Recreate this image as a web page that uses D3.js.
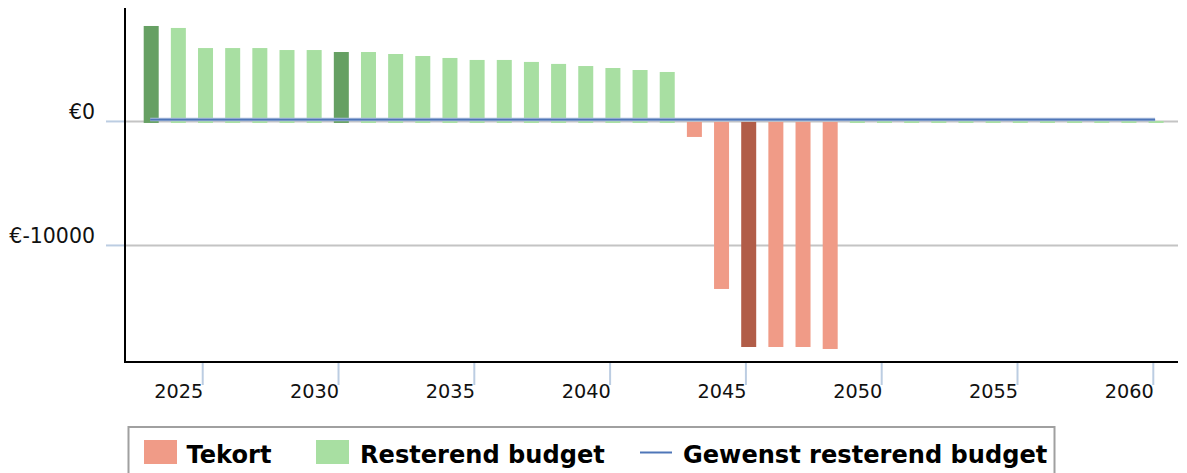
<!DOCTYPE html>
<html>
<head>
<meta charset="utf-8">
<script src="https://cdn.jsdelivr.net/npm/d3@7"></script>
<style>
  html, body { margin: 0; padding: 0; background: #ffffff; }
  svg { display: block; }
</style>
</head>
<body>
<svg id="chart" width="1187" height="473"></svg>
<script>
// ---- data ----
const years = [2023, 2024, 2025, 2026, 2027, 2028, 2029, 2030, 2031, 2032,
               2033, 2034, 2035, 2036, 2037, 2038, 2039, 2040, 2041, 2042,
               2043, 2044, 2045, 2046, 2047, 2048, 2049, 2050, 2051, 2052,
               2053, 2054, 2055, 2056, 2057, 2058, 2059, 2060];
const resterend = [7700, 7540, 5920, 5920, 5920, 5760, 5760, 5600, 5600, 5440,
                   5280, 5120, 4960, 4960, 4800, 4640, 4470, 4310, 4150, 3990,
                   null, null, null, null, null, null, 0, 0, 0, 0,
                   0, 0, 0, 0, 0, 0, 0, 0];
const tekort = [null, null, null, null, null, null, null, null, null, null,
                null, null, null, null, null, null, null, null, null, null,
                -1250, -13510, -18190, -18190, -18190, -18350, null, null, null, null,
                null, null, null, null, null, null, null, null];
const gewenst = [150, 150, 150, 150, 150, 150, 150, 150, 150, 150,
                 150, 150, 150, 150, 150, 150, 150, 150, 150, 150,
                 150, 150, 150, 150, 150, 150, 150, 150, 150, 150,
                 150, 150, 150, 150, 150, 150, 150, 150];
const highlightYears = [2023, 2030, 2045];
const xTickYears = [2025, 2030, 2035, 2040, 2045, 2050, 2055, 2060];
const yTickValues = [0, -10000];
const yTickLabels = ["€0", "€-10000"];
const legendLabels = ["Tekort", "Resterend budget", "Gewenst resterend budget"];

// ---- styles ----
const C = {
  green: "#a8dfa2", greenDark: "#66a063",
  red: "#f09b87", redDark: "#b15d48",
  blue: "#4f76b8", grid: "#c4c4c4", tick: "#bccde2", axis: "#000000"
};

const svg = d3.select("#chart");
const pLeft = 125, pRight = 1178, pTop = 8, pBottom = 362;

const x = d3.scaleLinear().domain([2023, 2060]).range([151.2, 1156.1]);
const y = d3.scaleLinear().domain([-19400, 9150]).range([pBottom, pTop]);
const barW = 15;

// gridlines
const g = svg.append("g");
g.selectAll("line.grid").data(yTickValues).enter().append("line")
  .attr("x1", pLeft).attr("x2", pRight)
  .attr("y1", d => y(d)).attr("y2", d => y(d))
  .attr("stroke", C.grid).attr("stroke-width", 2);
g.selectAll("line.ytick").data(yTickValues).enter().append("line")
  .attr("x1", 106).attr("x2", pLeft)
  .attr("y1", d => y(d)).attr("y2", d => y(d))
  .attr("stroke", C.tick).attr("stroke-width", 2);
g.selectAll("text.ylab").data(yTickValues).enter().append("text")
  .attr("x", 95).attr("y", d => y(d) - 2)
  .attr("text-anchor", "end")
  .attr("font-family", "DejaVu Sans, Verdana, sans-serif")
  .attr("font-size", 20.5).attr("fill", "#111")
  .text((d, i) => yTickLabels[i]);

// green bars
const y0 = y(0);
const greenData = years.map((yr, i) => ({ yr, v: resterend[i] })).filter(d => d.v !== null);
svg.append("g").selectAll("rect").data(greenData).enter().append("rect")
  .attr("x", d => x(d.yr) - barW / 2)
  .attr("width", barW)
  .attr("y", d => Math.min(y(d.v), y0 - 0.5))
  .attr("height", d => (y0 + 1.5) - Math.min(y(d.v), y0 - 0.5))
  .attr("fill", d => highlightYears.includes(d.yr) ? C.greenDark : C.green);

// red bars
const redData = years.map((yr, i) => ({ yr, v: tekort[i] })).filter(d => d.v !== null);
svg.append("g").selectAll("rect").data(redData).enter().append("rect")
  .attr("x", d => x(d.yr) - barW / 2)
  .attr("width", barW)
  .attr("y", y0 + 0.5)
  .attr("height", d => y(d.v) - (y0 + 0.5))
  .attr("fill", d => highlightYears.includes(d.yr) ? C.redDark : C.red);

// desired line
const lineData = years.map((yr, i) => ({ yr, v: gewenst[i] }));
svg.append("path")
  .datum(lineData)
  .attr("fill", "none")
  .attr("stroke", "#a9bcdc").attr("stroke-width", 3.5)
  .attr("d", d3.line().x(d => x(d.yr) - 1).y(d => y(d.v)));
svg.append("path")
  .datum(lineData)
  .attr("fill", "none")
  .attr("stroke", C.blue).attr("stroke-width", 1.8)
  .attr("d", d3.line().x(d => x(d.yr) - 1).y(d => y(d.v)));

// x ticks & labels
const xg = svg.append("g");
xg.selectAll("line").data(xTickYears).enter().append("line")
  .attr("x1", d => x(d) - 2.8).attr("x2", d => x(d) - 2.8)
  .attr("y1", pBottom).attr("y2", 385)
  .attr("stroke", C.tick).attr("stroke-width", 2);
xg.selectAll("text").data(xTickYears).enter().append("text")
  .attr("x", d => x(d) - 2.2).attr("y", 397.5)
  .attr("text-anchor", "end")
  .attr("font-family", "DejaVu Sans, Verdana, sans-serif")
  .attr("font-size", 19.3).attr("fill", "#111")
  .text(d => d);

// axes lines
svg.append("line").attr("x1", pLeft).attr("x2", pLeft).attr("y1", pTop).attr("y2", pBottom + 1)
  .attr("stroke", C.axis).attr("stroke-width", 2);
svg.append("line").attr("x1", pLeft - 1).attr("x2", pRight).attr("y1", pBottom).attr("y2", pBottom)
  .attr("stroke", C.axis).attr("stroke-width", 2);

// legend
const lg = svg.append("g");
lg.append("rect").attr("x", 128.5).attr("y", 427).attr("width", 926).attr("height", 70)
  .attr("fill", "none").attr("stroke", "#a0a0a0").attr("stroke-width", 2);
const lfont = { family: "DejaVu Sans, Verdana, sans-serif", size: 24.1 };
lg.append("rect").attr("x", 144).attr("y", 440).attr("width", 33).attr("height", 24).attr("fill", C.red);
lg.append("text").attr("x", 186.5).attr("y", 463)
  .attr("font-family", lfont.family).attr("font-size", lfont.size).attr("font-weight", "bold")
  .attr("fill", "#000").text(legendLabels[0]);
lg.append("rect").attr("x", 316).attr("y", 440).attr("width", 33).attr("height", 24).attr("fill", C.green);
lg.append("text").attr("x", 360).attr("y", 463)
  .attr("font-family", lfont.family).attr("font-size", lfont.size).attr("font-weight", "bold")
  .attr("fill", "#000").text(legendLabels[1]);
lg.append("line").attr("x1", 640).attr("x2", 672).attr("y1", 452.5).attr("y2", 452.5)
  .attr("stroke", C.blue).attr("stroke-width", 2);
lg.append("text").attr("x", 683).attr("y", 463)
  .attr("font-family", lfont.family).attr("font-size", lfont.size).attr("font-weight", "bold")
  .attr("fill", "#000").text(legendLabels[2]);
</script>
</body>
</html>
